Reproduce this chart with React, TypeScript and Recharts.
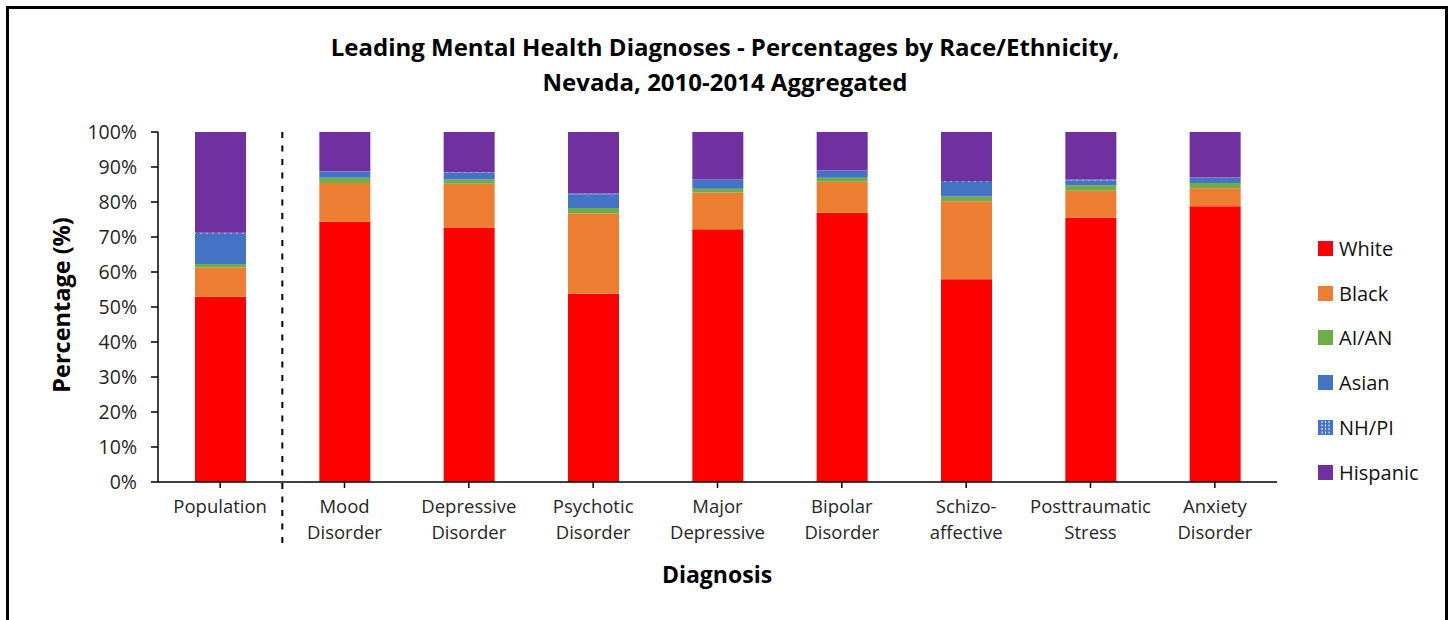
import React from "react";
import {
  BarChart, Bar, XAxis, YAxis, Legend, ReferenceLine
} from "recharts";

const categories = [
  "Population",
  "Mood\nDisorder",
  "Depressive\nDisorder",
  "Psychotic\nDisorder",
  "Major\nDepressive",
  "Bipolar\nDisorder",
  "Schizo-\naffective",
  "Posttraumatic\nStress",
  "Anxiety\nDisorder",
];

const white = [52.9, 74.4, 72.7, 53.8, 72.2, 76.9, 57.9, 75.6, 78.8];
const black = [8.4, 11.0, 12.5, 22.9, 10.5, 8.9, 22.3, 7.6, 5.1];
const aian = [1.0, 1.5, 1.2, 1.6, 1.1, 1.1, 1.4, 1.6, 1.5];
const asian = [8.3, 1.8, 2.0, 3.8, 2.5, 2.0, 4.1, 1.4, 1.5];
const nhpi = [0.6, 0.1, 0.1, 0.3, 0.1, 0.1, 0.3, 0.2, 0.1];
const hispanic = [28.8, 11.2, 11.5, 17.6, 13.6, 11.0, 14.0, 13.6, 13.0];

const yTicks = [0, 10, 20, 30, 40, 50, 60, 70, 80, 90, 100];

const series = [
  { key: "white", name: "White", color: "#FF0000", values: white },
  { key: "black", name: "Black", color: "#ED7D31", values: black },
  { key: "aian", name: "AI/AN", color: "#70AD47", values: aian },
  { key: "asian", name: "Asian", color: "#4472C4", values: asian },
  { key: "nhpi", name: "NH/PI", color: "url(#nhpiPattern)", values: nhpi },
  { key: "hispanic", name: "Hispanic", color: "#7030A0", values: hispanic },
];

const data = categories.map((c, i) => {
  const row: any = { category: c };
  for (const s of series) row[s.key] = s.values[i];
  return row;
});

const FONT = "'Open Sans', Lato, sans-serif";
const TEXT = "#262626";

function CategoryTick({ x, y, payload }: any) {
  const lines = String(payload.value).split("\n");
  return (
    <text x={x} y={y} textAnchor="middle" fill={TEXT} fontSize={18.5} fontFamily={FONT}>
      {lines.map((l, i) => (
        <tspan key={i} x={x} dy={i === 0 ? 23 : 26}>{l}</tspan>
      ))}
    </text>
  );
}

function LegendBox() {
  return (
    <div style={{ fontFamily: FONT, fontSize: 20, color: "#111" }}>
      {series.map((s) => (
        <div key={s.key} style={{ display: "flex", alignItems: "center", height: 44.8 }}>
          {s.key === "nhpi" ? (
            <svg width={15} height={15} style={{ marginRight: 6 }}>
              <rect width={15} height={15} fill="#4472C4" />
              {[4, 7.5, 11].map((px) => (
                <line key={px} x1={px} x2={px} y1={1} y2={14} stroke="#fff" strokeWidth={1} strokeDasharray="2 1.5" />
              ))}
            </svg>
          ) : (
            <span style={{ width: 15, height: 15, background: s.color, marginRight: 6, display: "inline-block" }} />
          )}
          <span>{s.name}</span>
        </div>
      ))}
    </div>
  );
}

export default function App() {
  return (
    <div style={{ position: "absolute", left: 0, top: 0, width: 1450, height: 620, background: "#fff", overflow: "hidden" }}>
      <div style={{ position: "absolute", left: 6, top: 6, width: 1436, height: 640, border: "3px solid #000" }} />
      <div style={{ position: "absolute", left: 0, top: 29, width: 1450, textAlign: "center", fontFamily: FONT, fontWeight: 700, fontSize: 24, lineHeight: "35px", color: "#000" }}>
        Leading Mental Health Diagnoses - Percentages by Race/Ethnicity,<br />
        Nevada, 2010-2014 Aggregated
      </div>
      <div style={{ position: "absolute", left: 0, top: 0 }}>
        <BarChart
          width={1450}
          height={620}
          data={data}
          margin={{ top: 132, right: 173, bottom: 0, left: 0 }}
          barSize={51}
        >
          <defs>
            <pattern id="nhpiPattern" width="6" height="4" patternUnits="userSpaceOnUse">
              <rect width="6" height="4" fill="#4472C4" />
              <rect x="2" y="0" width="2" height="1.5" fill="#ffffff" />
            </pattern>
          </defs>
          <XAxis
            dataKey="category"
            height={138}
            interval={0}
            tick={<CategoryTick />}
            tickSize={6}
            axisLine={{ stroke: "#000", strokeWidth: 1.5 }}
            tickLine={{ stroke: "#000", strokeWidth: 1.5 }}
            label={{
              content: () => (
                <text x={717} y={583} textAnchor="middle" fontFamily={FONT} fontWeight={700} fontSize={23} fill="#000">
                  Diagnosis
                </text>
              ),
            }}
          />
          <YAxis
            width={158}
            domain={[0, 100]}
            ticks={yTicks}
            tickFormatter={(v) => `${v}%`}
            tickSize={7}
            tickMargin={14}
            tick={{ fill: TEXT, fontSize: 19.5, fontFamily: FONT }}
            axisLine={{ stroke: "#000", strokeWidth: 1.5 }}
            tickLine={{ stroke: "#000", strokeWidth: 1.5 }}
            label={{
              content: () => (
                <text transform="translate(70, 305) rotate(-90)" textAnchor="middle" fontFamily={FONT} fontWeight={700} fontSize={23.5} fill="#000">
                  Percentage (%)
                </text>
              ),
            }}
          />
          {series.map((s) => (
            <Bar
              key={s.key}
              dataKey={s.key}
              name={s.name}
              stackId="a"
              fill={s.color}
              isAnimationActive={false}
            />
          ))}
          <ReferenceLine
            segment={[{ x: "Population", y: 100 }, { x: "Population", y: -18 }]}
            position="end"
            ifOverflow="visible"
            stroke="#000"
            strokeWidth={2}
            strokeDasharray="6 7.5"
          />
          <Legend
            layout="vertical"
            align="center"
            verticalAlign="middle"
            wrapperStyle={{ position: "absolute", left: 1318, top: 226, width: 130 }}
            content={() => <LegendBox />}
          />
        </BarChart>
      </div>
    </div>
  );
}
